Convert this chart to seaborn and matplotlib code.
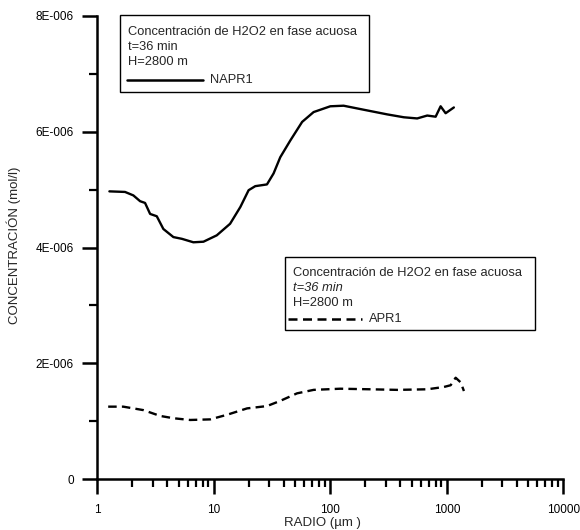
import numpy as np
import pandas as pd
import matplotlib
matplotlib.use("Agg")
import matplotlib.pyplot as plt
import seaborn as sns
from matplotlib.ticker import LogLocator, FixedLocator, NullFormatter, FixedFormatter
from matplotlib.lines import Line2D
from matplotlib.patches import Rectangle

# ---------------- data ----------------
napr1_radio = [1.27, 1.73, 2.04, 2.33, 2.57, 2.84, 3.24, 3.69, 4.50, 5.32, 6.68, 8.15,
               10.6, 13.8, 16.9, 19.9, 22.7, 28.6, 32.6, 37.2, 45.4, 57.3, 71.9, 100,
               130, 194, 308, 428, 557, 679, 802, 885, 977, 1150]
napr1_conc = [4.97, 4.96, 4.90, 4.80, 4.77, 4.58, 4.54, 4.32, 4.18, 4.15, 4.09, 4.10,
              4.21, 4.41, 4.70, 4.99, 5.06, 5.09, 5.28, 5.56, 5.85, 6.17, 6.34, 6.44,
              6.45, 6.38, 6.30, 6.25, 6.23, 6.28, 6.26, 6.44, 6.32, 6.42]  # x 1E-6 mol/l

apr1_radio = [1.24, 1.67, 2.49, 3.46, 4.50, 6.26, 9.31, 13.0, 19.3, 28.6, 37.2, 51.8,
              71.9, 122, 221, 375, 679, 944, 1079, 1191, 1315, 1403]
apr1_conc = [1.25, 1.25, 1.19, 1.09, 1.05, 1.02, 1.03, 1.11, 1.22, 1.26, 1.35, 1.48,
             1.54, 1.56, 1.55, 1.54, 1.55, 1.59, 1.62, 1.75, 1.67, 1.52]  # x 1E-6 mol/l

y_ticks = [0, 2e-6, 4e-6, 6e-6, 8e-6]
y_ticklabels = ["0", "2E-006", "4E-006", "6E-006", "8E-006"]
x_ticks = [1, 10, 100, 1000, 10000]
x_ticklabels = ["1", "10", "100", "1000", "10000"]

legend_title = "Concentración de H2O2 en fase acuosa"
legend_time = "t=36 min"
legend_height = "H=2800 m"

df_napr = pd.DataFrame({"radio": napr1_radio, "conc": np.array(napr1_conc) * 1e-6})
df_apr = pd.DataFrame({"radio": apr1_radio, "conc": np.array(apr1_conc) * 1e-6})

# ---------------- figure ----------------
sns.set_style("ticks")
plt.rcParams["font.family"] = ["Liberation Sans", "DejaVu Sans"]

W, H = 580, 530
fig = plt.figure(figsize=(W / 100, H / 100), dpi=100)
ax_l, ax_r, ax_t, ax_b = 97.3, 563.3, 16, 479
ax = fig.add_axes([ax_l / W, 1 - ax_b / H, (ax_r - ax_l) / W, (ax_b - ax_t) / H])

sns.lineplot(data=df_napr, x="radio", y="conc", ax=ax, color="black", lw=1.7,
             estimator=None, sort=False, solid_joinstyle="round")
sns.lineplot(data=df_apr, x="radio", y="conc", ax=ax, color="black", lw=1.7,
             estimator=None, sort=False)
ax.lines[-1].set_dashes((3.6, 2.2))

ax.set_xscale("log")
ax.set_xlim(1, 10000)
ax.set_ylim(0, 8e-6)

ax.xaxis.set_major_locator(FixedLocator(x_ticks))
ax.xaxis.set_major_formatter(FixedFormatter(x_ticklabels))
ax.xaxis.set_minor_locator(LogLocator(base=10, subs=np.arange(2, 10), numticks=20))
ax.xaxis.set_minor_formatter(NullFormatter())

ax.yaxis.set_major_locator(FixedLocator(y_ticks))
ax.yaxis.set_major_formatter(FixedFormatter(y_ticklabels))
ax.yaxis.set_minor_locator(FixedLocator([1e-6, 3e-6, 5e-6, 7e-6]))

for s in ["top", "right"]:
    ax.spines[s].set_visible(False)
for s in ["left", "bottom"]:
    ax.spines[s].set_linewidth(1.8)
    ax.spines[s].set_color("black")

ax.tick_params(axis="both", which="major", direction="out", length=11, width=1.8,
               color="black", labelsize=8.5, labelcolor="black")
ax.tick_params(axis="both", which="minor", direction="out", length=5.5, width=1.6,
               color="black")
ax.tick_params(axis="y", which="major", pad=6)
ax.tick_params(axis="x", which="major", pad=7)

ax.set_xlabel("RADIO (µm )", fontsize=9.5)
ax.set_ylabel("CONCENTRACIÓN (mol/l)", fontsize=9.5)
ax.xaxis.set_label_coords((322 - ax_l) / (ax_r - ax_l), (ax_b - 523) / (ax_b - ax_t))
ax.yaxis.set_label_coords((14 - ax_l) / (ax_r - ax_l), (ax_b - 245) / (ax_b - ax_t))
ax.xaxis.label.set_va("center")
ax.yaxis.label.set_va("center")
ax.grid(False)


def fx(px):
    return px / W


def fy(py):
    return 1 - py / H


FS = 9.3


def legend_box(x0, y0, x1, y1, lines_y, text_x, line_x0, line_x1, label, label_x,
               dashed, italic_time):
    fig.add_artist(Rectangle((fx(x0), fy(y1)), fx(x1) - fx(x0), fy(y0) - fy(y1),
                             transform=fig.transFigure, fill=True, facecolor="white",
                             edgecolor="black", lw=1.0, zorder=5))
    fig.text(fx(text_x), fy(lines_y[0]), legend_title, fontsize=FS, va="center",
             ha="left", zorder=6)
    fig.text(fx(text_x), fy(lines_y[1]), legend_time, fontsize=FS, va="center",
             ha="left", style="italic" if italic_time else "normal", zorder=6)
    fig.text(fx(text_x), fy(lines_y[2]), legend_height, fontsize=FS, va="center",
             ha="left", zorder=6)
    ln = Line2D([fx(line_x0), fx(line_x1)], [fy(lines_y[3]), fy(lines_y[3])],
                transform=fig.transFigure, color="black", lw=1.8, zorder=6)
    if dashed:
        ln.set_dashes((3.6, 2.2))
    fig.add_artist(ln)
    fig.text(fx(label_x), fy(lines_y[3]), label, fontsize=FS, va="center",
             ha="left", zorder=6)


legend_box(120, 15, 369, 92, [32, 47, 62, 80], 128, 127, 203, "NAPR1", 210,
           dashed=False, italic_time=False)
legend_box(285, 257, 535, 330, [273, 288, 303, 319], 293, 288, 362, "APR1", 369,
           dashed=True, italic_time=True)

fig.savefig("out.png", dpi=100)
